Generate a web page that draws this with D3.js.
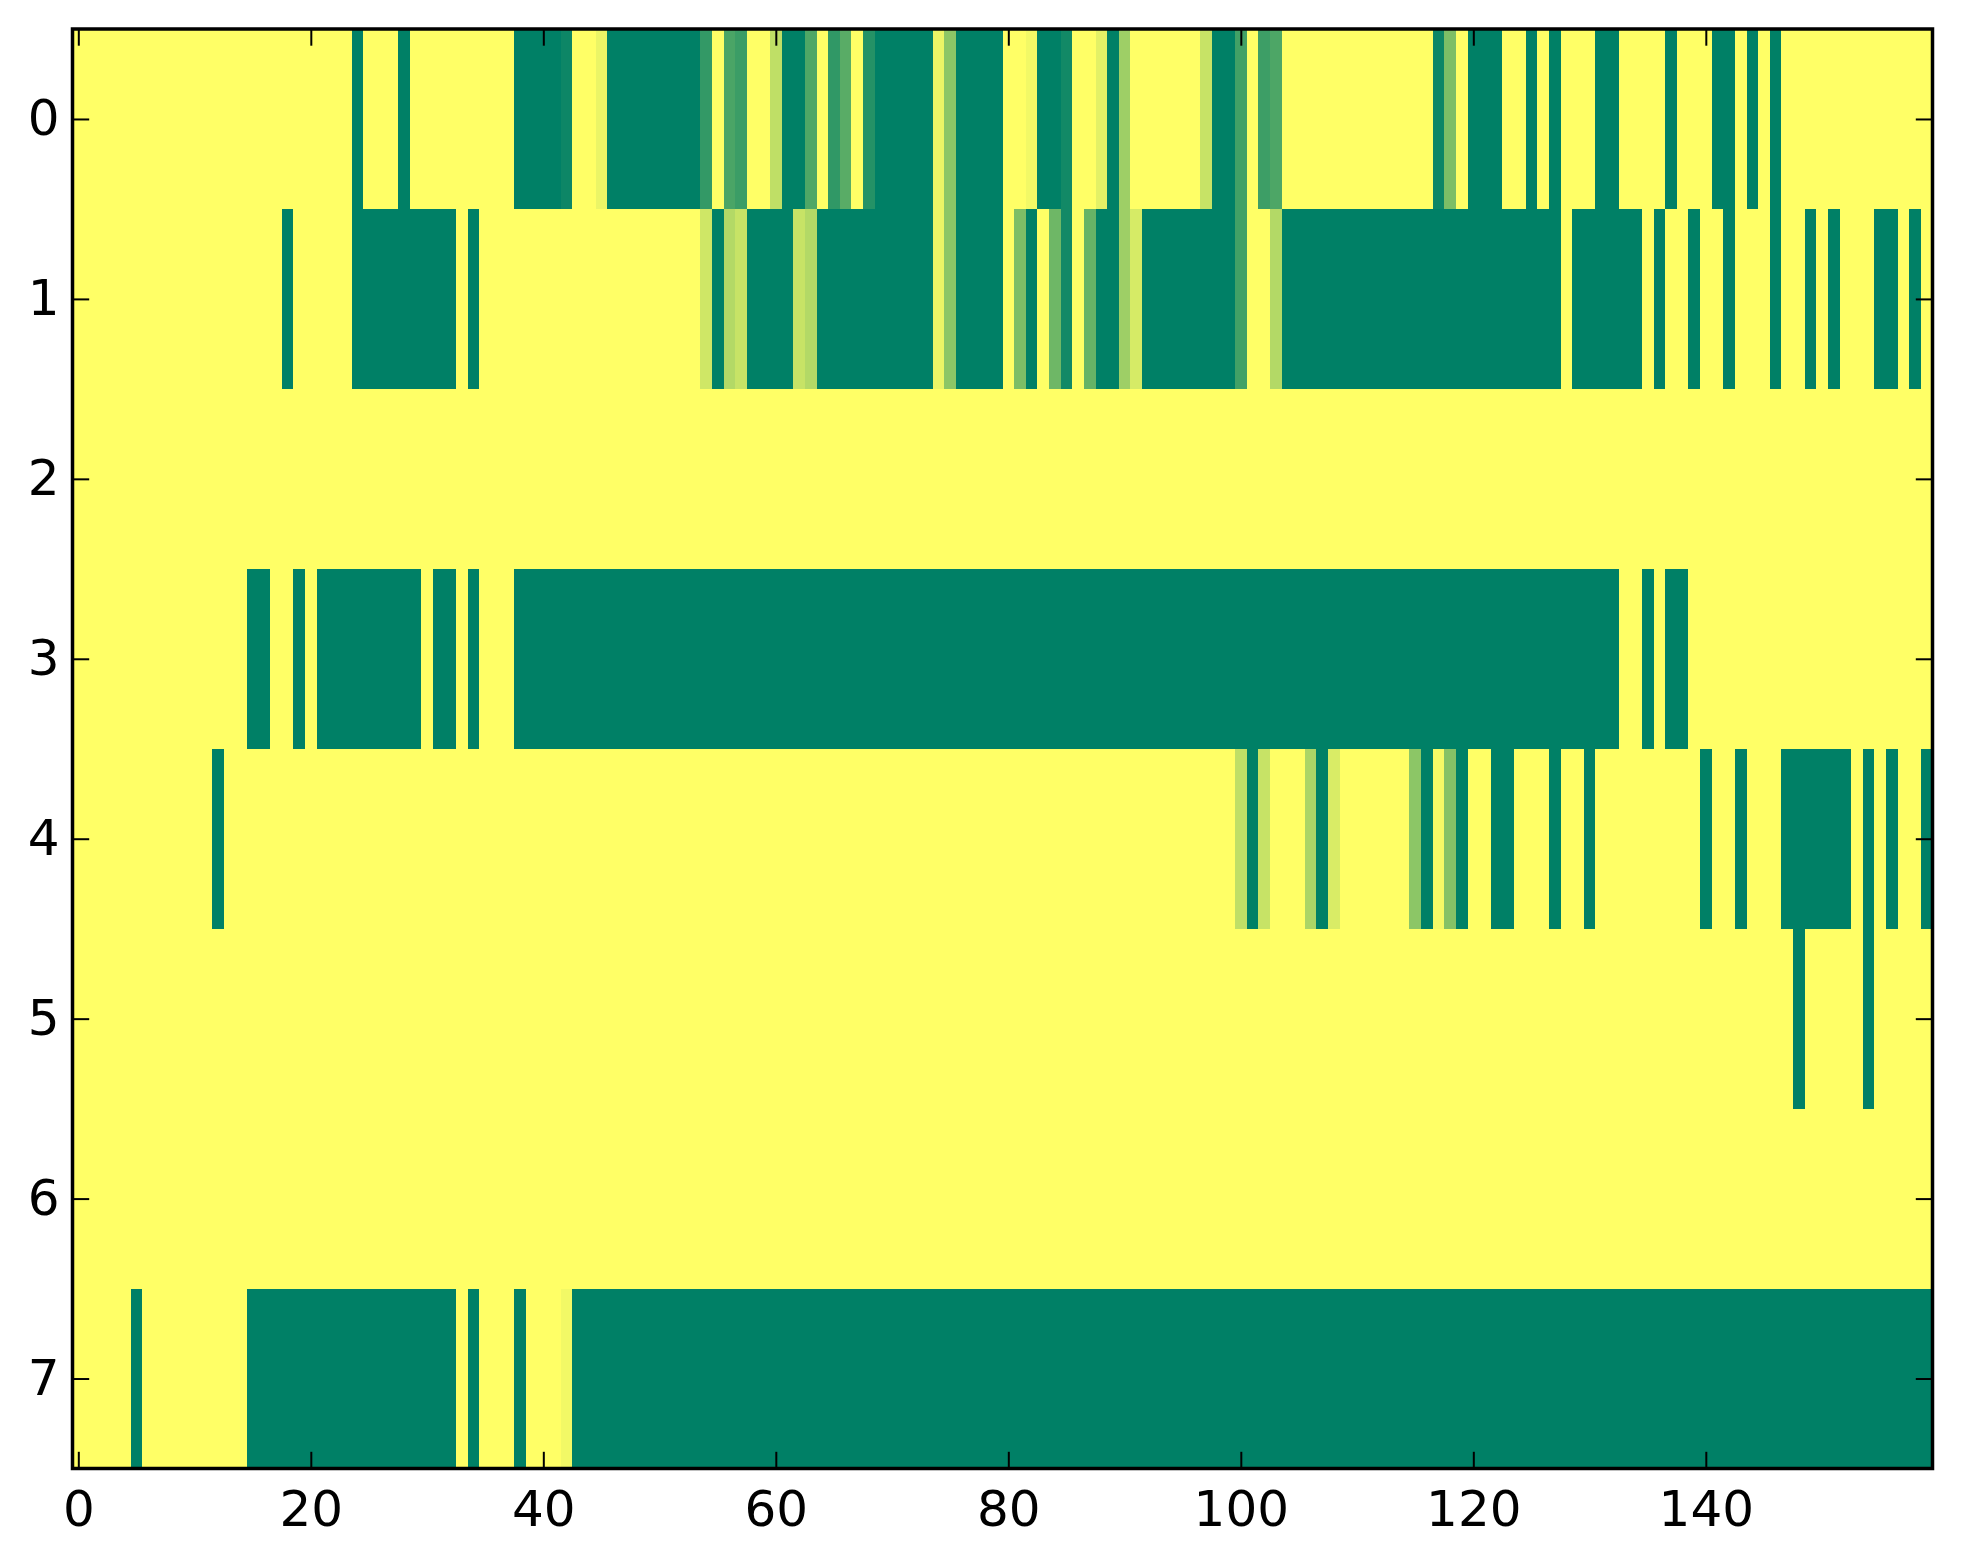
<!DOCTYPE html>
<html>
<head>
<meta charset="utf-8">
<script src="https://cdn.jsdelivr.net/npm/d3@7"></script>
<style>
  html, body { margin: 0; padding: 0; background: #ffffff; }
  svg { display: block; }
  text { font-family: "DejaVu Sans", sans-serif; }
</style>
</head>
<body>
<svg id="chart" width="1963" height="1564"></svg>
<script>
// ---------- data (one array per image row, 160 columns each) ----------
const rowLabels = [0, 1, 2, 3, 4, 5, 6, 7];
const xTickValues = [0, 20, 40, 60, 80, 100, 120, 140];
const yTickValues = [0, 1, 2, 3, 4, 5, 6, 7];

const row0 = [
  1,1,1,1,1,1,1,1,1,1,
  1,1,1,1,1,1,1,1,1,1,
  1,1,1,1,0,1,1,1,0,1,
  1,1,1,1,1,1,1,1,0,0,
  0,0,0.05,1,1,0.92,0,0,0,0,
  0,0,0,0,0.2,1,0.29,0.23,1,1,
  0.75,0,0,0.31,1,0.19,0.35,1,0.14,0,
  0,0,0,0,0.92,0.55,0,0,0,0,
  1,1,0.95,0,0,0.07,1,1,0.89,0,
  0.62,1,1,1,1,1,1,0.78,0,0,
  0.26,1,0.24,0.3,1,1,1,1,1,1,
  1,1,1,1,1,1,1,0.05,0.49,1,
  0,0,0,1,1,0,1,0,1,1,
  1,0,0,1,1,1,1,0,1,1,
  1,0,0,1,0,1,0,1,1,1,
  1,1,1,1,1,1,1,1,1,1
];
const row1 = [
  1,1,1,1,1,1,1,1,1,1,
  1,1,1,1,1,1,1,1,0,1,
  1,1,1,1,0,0,0,0,0,0,
  0,0,0,1,0,1,1,1,1,1,
  1,1,1,1,1,1,1,1,1,1,
  1,1,1,1,0.81,0,0.7,0.78,0,0,
  0,0,0.78,0.7,0,0,0,0,0,0,
  0,0,0,0,0.92,0.55,0,0,0,0,
  1,0.49,0,1,0.43,0.07,1,0.4,0,0,
  0.62,0.84,0,0,0,0,0,0,0,0,
  0.26,1,1,0.7,0,0,0,0,0,0,
  0,0,0,0,0,0,0,0,0,0,
  0,0,0,0,0,0,0,0,1,0,
  0,0,0,0,0,1,0,1,1,0,
  1,1,0,1,1,1,0,1,1,0,
  1,0,1,1,1,0,0,1,0,1
];
const row2 = [
  1,1,1,1,1,1,1,1,1,1,
  1,1,1,1,1,1,1,1,1,1,
  1,1,1,1,1,1,1,1,1,1,
  1,1,1,1,1,1,1,1,1,1,
  1,1,1,1,1,1,1,1,1,1,
  1,1,1,1,1,1,1,1,1,1,
  1,1,1,1,1,1,1,1,1,1,
  1,1,1,1,1,1,1,1,1,1,
  1,1,1,1,1,1,1,1,1,1,
  1,1,1,1,1,1,1,1,1,1,
  1,1,1,1,1,1,1,1,1,1,
  1,1,1,1,1,1,1,1,1,1,
  1,1,1,1,1,1,1,1,1,1,
  1,1,1,1,1,1,1,1,1,1,
  1,1,1,1,1,1,1,1,1,1,
  1,1,1,1,1,1,1,1,1,1
];
const row3 = [
  1,1,1,1,1,1,1,1,1,1,
  1,1,1,1,1,0,0,1,1,0,
  1,0,0,0,0,0,0,0,0,0,
  1,0,0,1,0,1,1,1,0,0,
  0,0,0,0,0,0,0,0,0,0,
  0,0,0,0,0,0,0,0,0,0,
  0,0,0,0,0,0,0,0,0,0,
  0,0,0,0,0,0,0,0,0,0,
  0,0,0,0,0,0,0,0,0,0,
  0,0,0,0,0,0,0,0,0,0,
  0,0,0,0,0,0,0,0,0,0,
  0,0,0,0,0,0,0,0,0,0,
  0,0,0,0,0,0,0,0,0,0,
  0,0,0,1,1,0,1,0,0,1,
  1,1,1,1,1,1,1,1,1,1,
  1,1,1,1,1,1,1,1,1,1
];
const row4 = [
  1,1,1,1,1,1,1,1,1,1,
  1,1,0,1,1,1,1,1,1,1,
  1,1,1,1,1,1,1,1,1,1,
  1,1,1,1,1,1,1,1,1,1,
  1,1,1,1,1,1,1,1,1,1,
  1,1,1,1,1,1,1,1,1,1,
  1,1,1,1,1,1,1,1,1,1,
  1,1,1,1,1,1,1,1,1,1,
  1,1,1,1,1,1,1,1,1,1,
  1,1,1,1,1,1,1,1,1,1,
  0.75,0,0.78,1,1,1,0.67,0,0.85,1,
  1,1,1,1,1,0.55,0,0.96,0.52,0,
  1,1,0,0,1,1,1,0,1,1,
  0,1,1,1,1,1,1,1,1,1,
  0,1,1,0,1,1,1,0,0,0,
  0,0,0,1,0,1,0,1,1,0
];
const row5 = [
  1,1,1,1,1,1,1,1,1,1,
  1,1,1,1,1,1,1,1,1,1,
  1,1,1,1,1,1,1,1,1,1,
  1,1,1,1,1,1,1,1,1,1,
  1,1,1,1,1,1,1,1,1,1,
  1,1,1,1,1,1,1,1,1,1,
  1,1,1,1,1,1,1,1,1,1,
  1,1,1,1,1,1,1,1,1,1,
  1,1,1,1,1,1,1,1,1,1,
  1,1,1,1,1,1,1,1,1,1,
  1,1,1,1,1,1,1,1,1,1,
  1,1,1,1,1,1,1,1,1,1,
  1,1,1,1,1,1,1,1,1,1,
  1,1,1,1,1,1,1,1,1,1,
  1,1,1,1,1,1,1,1,0,1,
  1,1,1,1,0,1,1,1,1,1
];
const row6 = [
  1,1,1,1,1,1,1,1,1,1,
  1,1,1,1,1,1,1,1,1,1,
  1,1,1,1,1,1,1,1,1,1,
  1,1,1,1,1,1,1,1,1,1,
  1,1,1,1,1,1,1,1,1,1,
  1,1,1,1,1,1,1,1,1,1,
  1,1,1,1,1,1,1,1,1,1,
  1,1,1,1,1,1,1,1,1,1,
  1,1,1,1,1,1,1,1,1,1,
  1,1,1,1,1,1,1,1,1,1,
  1,1,1,1,1,1,1,1,1,1,
  1,1,1,1,1,1,1,1,1,1,
  1,1,1,1,1,1,1,1,1,1,
  1,1,1,1,1,1,1,1,1,1,
  1,1,1,1,1,1,1,1,1,1,
  1,1,1,1,1,1,1,1,1,1
];
const row7 = [
  1,1,1,1,1,0,1,1,1,1,
  1,1,1,1,1,0,0,0,0,0,
  0,0,0,0,0,0,0,0,0,0,
  0,0,0,1,0,1,1,1,0,1,
  1,1,0.95,0,0,0,0,0,0,0,
  0,0,0,0,0,0,0,0,0,0,
  0,0,0,0,0,0,0,0,0,0,
  0,0,0,0,0,0,0,0,0,0,
  0,0,0,0,0,0,0,0,0,0,
  0,0,0,0,0,0,0,0,0,0,
  0,0,0,0,0,0,0,0,0,0,
  0,0,0,0,0,0,0,0,0,0,
  0,0,0,0,0,0,0,0,0,0,
  0,0,0,0,0,0,0,0,0,0,
  0,0,0,0,0,0,0,0,0,0,
  0,0,0,0,0,0,0,0,0,0
];
const rows = [row0, row1, row2, row3, row4, row5, row6, row7];

// ---------- layout ----------
const plotLeft = 72.5, plotRight = 1932.5, plotTop = 29, plotBottom = 1468.5;
const nCols = row0.length;
const fontSize = 50;
const tickLen = 16.7;

const svg = d3.select("#chart");

const x = d3.scaleLinear().domain([-0.5, nCols - 0.5]).range([plotLeft, plotRight]);
const y = d3.scaleLinear().domain([-0.5, rowLabels.length - 0.5]).range([plotTop, plotBottom]);
// matplotlib "summer" colormap: (v, 0.5+0.5v, 0.4)
const color = d3.scaleLinear().domain([0, 1]).range(["#008066", "#ffff66"]).interpolate(d3.interpolateRgb);

const cells = [];
rows.forEach((r, ri) => r.forEach((v, ci) => cells.push({ r: rowLabels[ri], c: ci, v: v })));

svg.append("g")
  .attr("shape-rendering", "crispEdges")
  .selectAll("rect")
  .data(cells)
  .join("rect")
  .attr("x", d => x(d.c - 0.5))
  .attr("y", d => y(d.r - 0.5))
  .attr("width", d => x(d.c + 0.5) - x(d.c - 0.5) + 0.5)
  .attr("height", d => y(d.r + 0.5) - y(d.r - 0.5) + 0.5)
  .attr("fill", d => color(d.v));

// ---------- axes (matplotlib classic: inward ticks on all four sides) ----------
function styleAxis(g) {
  g.select(".domain").remove();
  g.selectAll(".tick line").attr("stroke", "#000").attr("stroke-width", 2);
  g.selectAll(".tick text").attr("fill", "#000").attr("font-size", fontSize)
    .attr("font-family", "DejaVu Sans, sans-serif");
}

svg.append("g")
  .attr("transform", `translate(0,${plotBottom})`)
  .call(d3.axisBottom(x).tickValues(xTickValues).tickFormat(d3.format("d"))
    .tickSizeInner(-tickLen).tickSizeOuter(0).tickPadding(22))
  .call(styleAxis);

svg.append("g")
  .attr("transform", `translate(0,${plotTop})`)
  .call(d3.axisTop(x).tickValues(xTickValues).tickFormat("")
    .tickSizeInner(-tickLen).tickSizeOuter(0))
  .call(styleAxis);

svg.append("g")
  .attr("transform", `translate(${plotLeft},0)`)
  .call(d3.axisLeft(y).tickValues(yTickValues).tickFormat(d3.format("d"))
    .tickSizeInner(-tickLen).tickSizeOuter(0).tickPadding(13))
  .call(styleAxis);

svg.append("g")
  .attr("transform", `translate(${plotRight},0)`)
  .call(d3.axisRight(y).tickValues(yTickValues).tickFormat("")
    .tickSizeInner(-tickLen).tickSizeOuter(0))
  .call(styleAxis);

// frame
svg.append("rect")
  .attr("x", plotLeft).attr("y", plotTop)
  .attr("width", plotRight - plotLeft).attr("height", plotBottom - plotTop)
  .attr("fill", "none").attr("stroke", "#000").attr("stroke-width", 3.5);
</script>
</body>
</html>
